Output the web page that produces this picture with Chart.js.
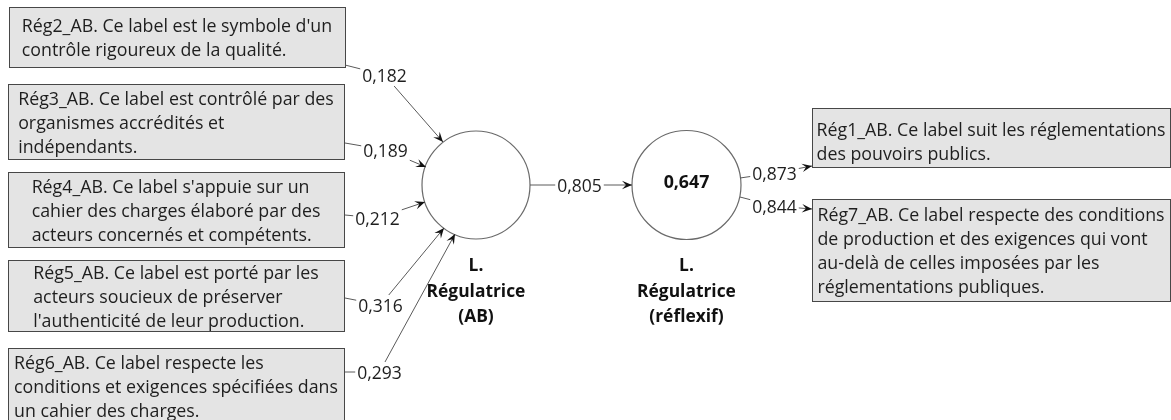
<!DOCTYPE html>
<html><head><meta charset="utf-8">
<script src="https://cdn.jsdelivr.net/npm/chart.js@4.4.0/dist/chart.umd.min.js"></script>
<style>html,body{margin:0;padding:0;background:#fff;overflow:hidden}#wrap{width:1171px;height:420px}</style>
</head><body><div id="wrap"><canvas id="c" width="1171" height="420"></canvas></div>
<script>
// ---------- DATA ----------
const formativeIndicators = [
  ["Rég2_AB. Ce label est le symbole d'un", "contrôle rigoureux de la qualité."],
  ["Rég3_AB. Ce label est contrôlé par des", "organismes accrédités et", "indépendants."],
  ["Rég4_AB. Ce label s'appuie sur un", "cahier des charges élaboré par des", "acteurs concernés et compétents."],
  ["Rég5_AB. Ce label est porté par les", "acteurs soucieux de préserver", "l'authenticité de leur production."],
  ["Rég6_AB. Ce label respecte les", "conditions et exigences spécifiées dans", "un cahier des charges."]
];
const outerWeights = [0.182, 0.189, 0.212, 0.316, 0.293];
const pathCoefficients = [0.805];
const rSquared = [0.647];
const reflectiveIndicators = [
  ["Rég1_AB. Ce label suit les réglementations", "des pouvoirs publics."],
  ["Rég7_AB. Ce label respecte des conditions", "de production et des exigences qui vont", "au-delà de celles imposées par les", "réglementations publiques."]
];
const outerLoadings = [0.873, 0.844];
const constructNames = [["L.", "Régulatrice", "(AB)"], ["L.", "Régulatrice", "(réflexif)"]];

// ---------- LAYOUT (positions in scale units) ----------
const leftBoxes = [[9,7,336,60],[8,84,336,75],[8,172,336,75],[8,260,336,71],[8,348,336,75]];
const leftTextDy = [0,0,0,0,0];
const leftAnchors = [[345,65],[345,143],[345,215],[345,298],[345,372]];
const leftLabelPos = [[384.5,75],[385.5,150],[377.5,218],[380.5,305],[379.5,372]];
const leftTargets = [[443,142],[426,167],[425,202],[444,228],[455,234]];
const circles = [[476,185,54],[686.5,185,54.5]];
const innerPath = [[530,185],[579.5,185],[632,185]];
const rightBoxes = [[812,108,358,59],[812,199,358,102]];
const rightTextDy = [3,0];
const rightAnchors = [[740,178],[740,197]];
const rightLabelPos = [[774.5,173],[774.5,206]];
const rightTargets = [[812,166],[812,209]];

const FONT = '"Segoe UI","Open Sans","Noto Sans",sans-serif';
const fmt = v => v.toFixed(3).replace('.', ',');

function pt(p){ return {x:p[0], y:p[1]}; }
const edges = [];
outerWeights.forEach((w,i)=>edges.push({pts:[leftAnchors[i],leftLabelPos[i],leftTargets[i]], label:fmt(w)}));
pathCoefficients.forEach(w=>edges.push({pts:innerPath, label:fmt(w)}));
outerLoadings.forEach((w,i)=>edges.push({pts:[rightAnchors[i],rightLabelPos[i],rightTargets[i]], label:fmt(w)}));

const datasets = edges.map(e=>({
  data: e.pts.map(pt), showLine:true, borderColor:'#5a5a5a', borderWidth:1,
  pointRadius:0, pointHoverRadius:0, tension:0, fill:false
}));

function drawBox(ctx, sx, sy, box, lines, dy){
  const x = sx.getPixelForValue(box[0]), y = sy.getPixelForValue(box[1]);
  const w = sx.getPixelForValue(box[0]+box[2]) - x, h = sy.getPixelForValue(box[1]+box[3]) - y;
  ctx.save();
  ctx.fillStyle = '#e4e4e4';
  ctx.fillRect(x, y, w, h);
  ctx.strokeStyle = '#474747'; ctx.lineWidth = 1;
  ctx.strokeRect(Math.round(x)+0.5, Math.round(y)+0.5, Math.round(w), Math.round(h));
  ctx.font = '17.8px ' + FONT;
  ctx.fillStyle = '#1e1e1e';
  ctx.textBaseline = 'alphabetic'; ctx.textAlign = 'left';
  const lh = 24;
  let maxW = 0; lines.forEach(l=>maxW=Math.max(maxW, ctx.measureText(l).width));
  const tx = x + (w - maxW)/2;
  const ty0 = y + h/2 - (lines.length-1)*lh/2 + 7 + dy;
  lines.forEach((l,i)=>ctx.fillText(l, tx, ty0 + i*lh));
  ctx.restore();
}

const diagramPlugin = {
  id:'diagram',
  beforeDatasetsDraw(chart){
    const {ctx, scales:{x:sx, y:sy}} = chart;
    formativeIndicators.forEach((lines,i)=>drawBox(ctx, sx, sy, leftBoxes[i], lines, leftTextDy[i]));
    reflectiveIndicators.forEach((lines,i)=>drawBox(ctx, sx, sy, rightBoxes[i], lines, rightTextDy[i]));
    ctx.save();
    circles.forEach(c=>{
      const cx = sx.getPixelForValue(c[0]), cy = sy.getPixelForValue(c[1]);
      const r = sx.getPixelForValue(c[0]+c[2]) - cx;
      ctx.beginPath(); ctx.arc(cx, cy, r, 0, Math.PI*2);
      ctx.fillStyle = '#fff'; ctx.fill();
      ctx.strokeStyle = '#6a6a6a'; ctx.lineWidth = 1.2; ctx.stroke();
    });
    ctx.restore();
  },
  afterDatasetsDraw(chart){
    const {ctx, scales:{x:sx, y:sy}} = chart;
    ctx.save();
    edges.forEach(e=>{
      const n = e.pts.length;
      const a = e.pts[n-2], b = e.pts[n-1];
      const ax = sx.getPixelForValue(a[0]), ay = sy.getPixelForValue(a[1]);
      const bx = sx.getPixelForValue(b[0]), by = sy.getPixelForValue(b[1]);
      const ang = Math.atan2(by-ay, bx-ax);
      const L = 10, W = 4.2;
      ctx.beginPath();
      ctx.moveTo(bx, by);
      ctx.lineTo(bx - L*Math.cos(ang) + W*Math.sin(ang), by - L*Math.sin(ang) - W*Math.cos(ang));
      ctx.lineTo(bx - 0.6*L*Math.cos(ang), by - 0.6*L*Math.sin(ang));
      ctx.lineTo(bx - L*Math.cos(ang) - W*Math.sin(ang), by - L*Math.sin(ang) + W*Math.cos(ang));
      ctx.closePath();
      ctx.fillStyle = '#111'; ctx.fill();
      // label
      const m = e.pts[1];
      const mx = sx.getPixelForValue(m[0]), my = sy.getPixelForValue(m[1]);
      ctx.font = '17.5px ' + FONT;
      const tw = ctx.measureText(e.label).width;
      ctx.fillStyle = '#fff';
      ctx.fillRect(mx - tw/2 - 2, my - 10, tw + 4, 21);
      ctx.fillStyle = '#1e1e1e'; ctx.textAlign = 'center'; ctx.textBaseline = 'alphabetic';
      ctx.fillText(e.label, mx, my + 7);
    });
    // R squared in endogenous construct
    ctx.font = 'bold 17.8px ' + FONT;
    ctx.fillStyle = '#111'; ctx.textAlign = 'center'; ctx.textBaseline = 'alphabetic';
    ctx.fillText(fmt(rSquared[0]), sx.getPixelForValue(circles[1][0]), sy.getPixelForValue(188));
    // construct names
    ctx.font = 'bold 17.4px ' + FONT;
    constructNames.forEach((lines, i)=>{
      const cx = sx.getPixelForValue(circles[i][0]);
      lines.forEach((l, j)=>ctx.fillText(l, cx, sy.getPixelForValue(271 + j*25.5)));
    });
    ctx.restore();
  }
};

new Chart(document.getElementById('c'), {
  type:'scatter',
  data:{datasets},
  options:{
    responsive:false, animation:false, devicePixelRatio:1,
    layout:{padding:0},
    events:[],
    plugins:{legend:{display:false}, tooltip:{enabled:false}, title:{display:false}},
    scales:{
      x:{type:'linear', min:0, max:1171, display:false},
      y:{type:'linear', min:0, max:420, reverse:true, display:false}
    }
  },
  plugins:[diagramPlugin]
});
</script>
</body></html>
